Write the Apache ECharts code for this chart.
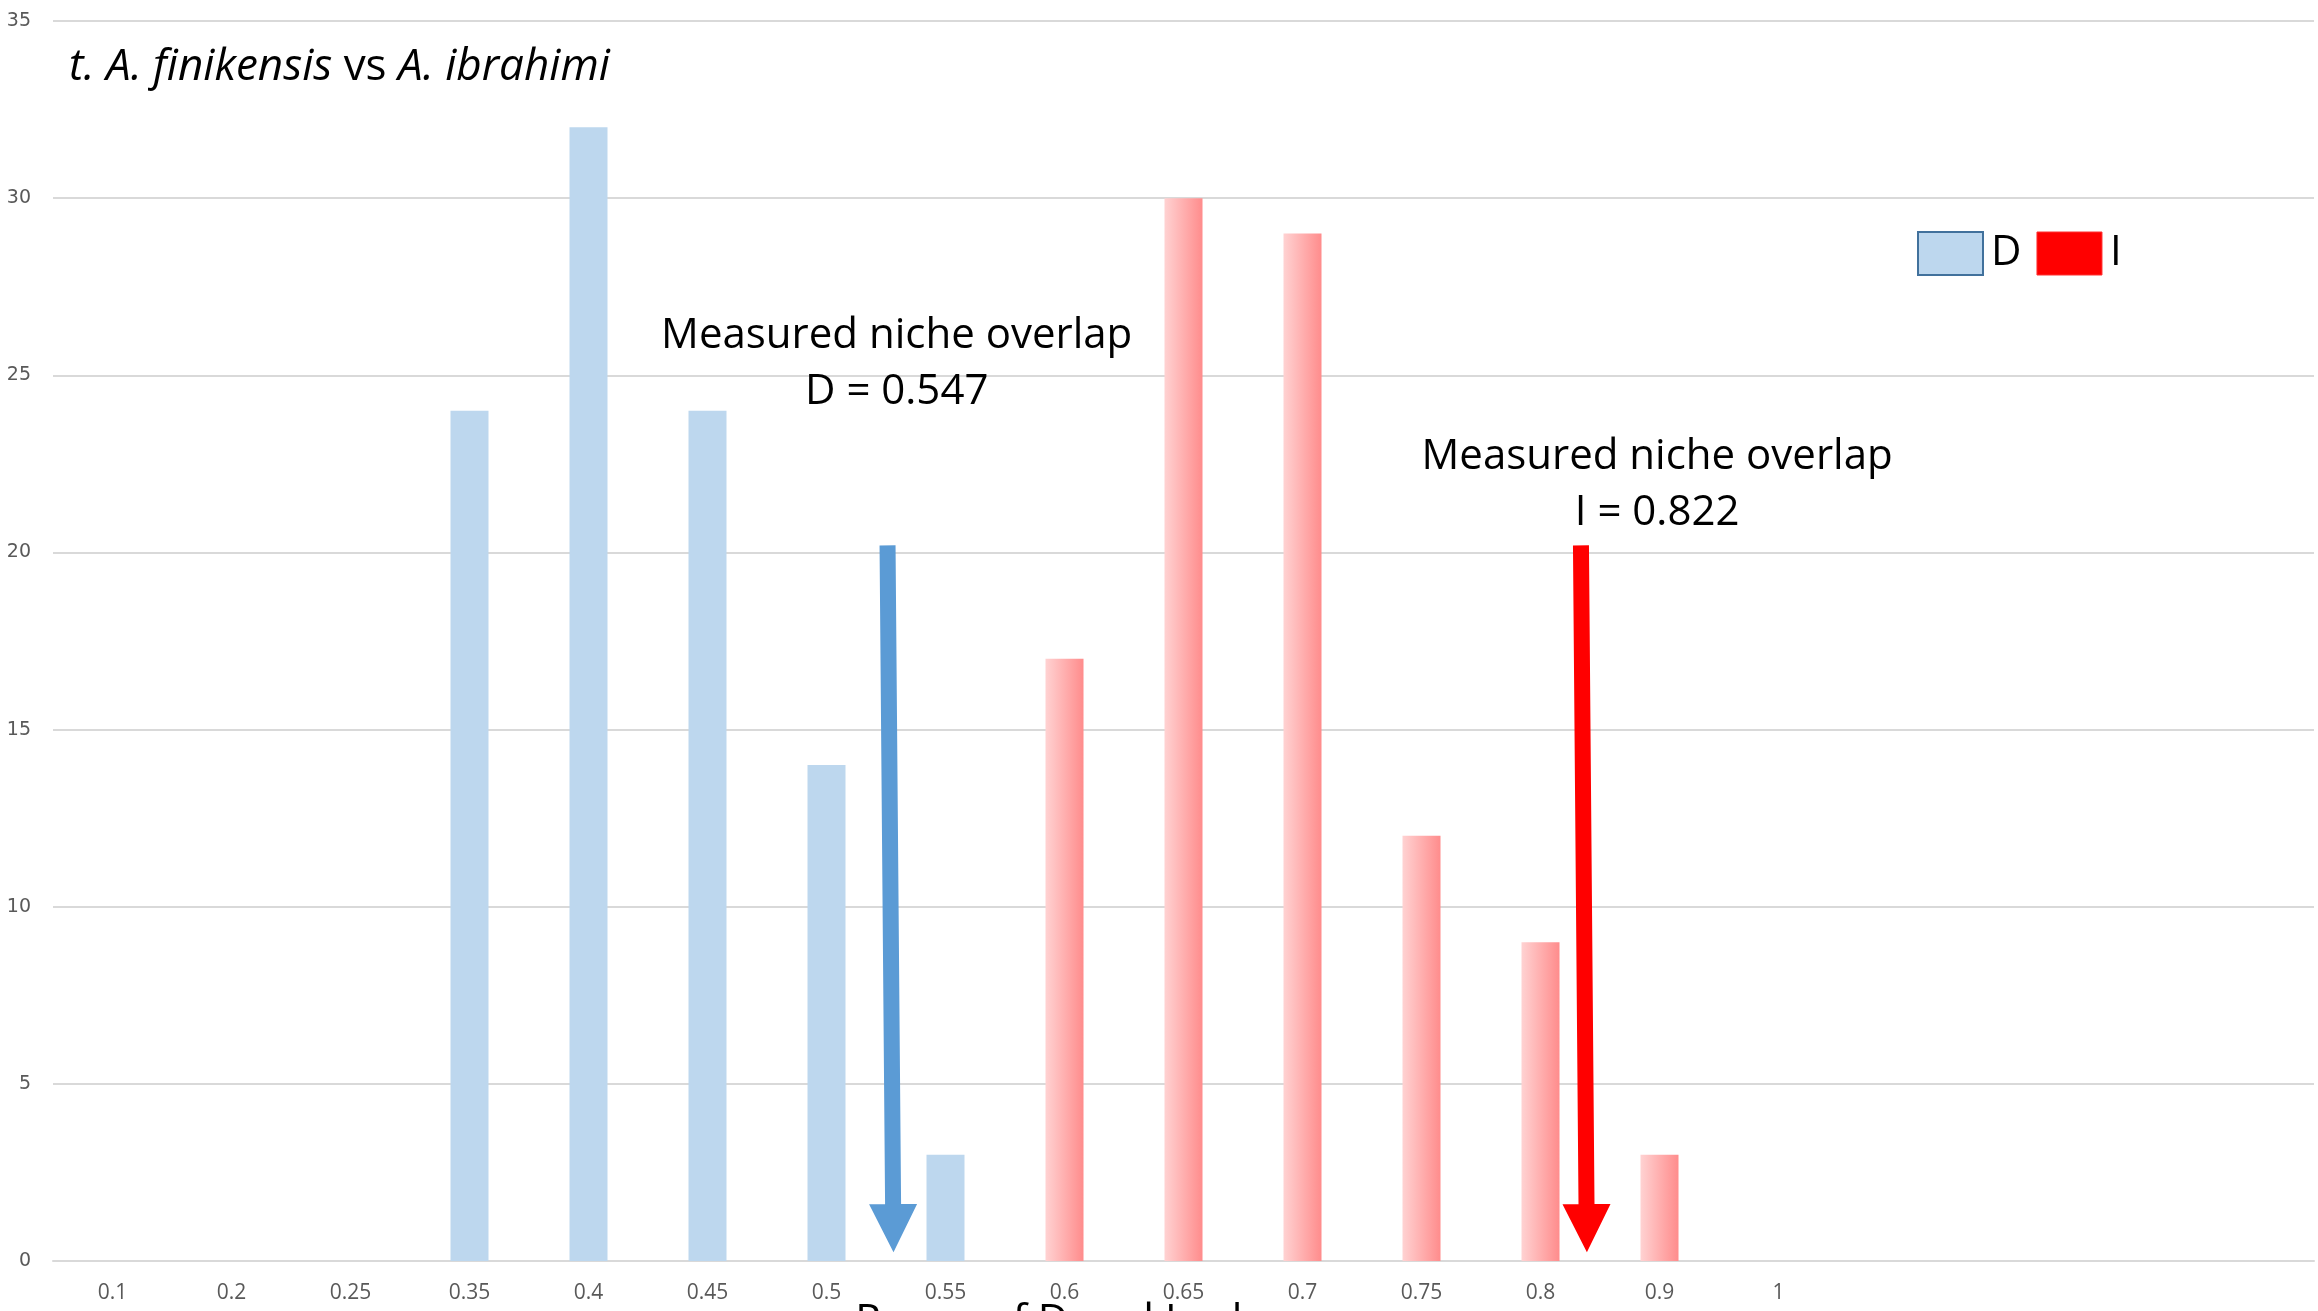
<!DOCTYPE html>
<html><head><meta charset="utf-8">
<script src="https://cdn.jsdelivr.net/npm/echarts@6/dist/echarts.min.js"></script>
<style>html,body{margin:0;padding:0;background:#fff}#c{width:2318px;height:1311px}</style>
</head><body><div id="c"></div>
<script>
// ---- data ----
const categories = ['0.1','0.2','0.25','0.35','0.4','0.45','0.5','0.55','0.6','0.65','0.7','0.75','0.8','0.9','1','','','',''];
const dValues = [null,null,null,24,32,24,14,3,null,null,null,null,null,null,null,null,null,null,null];
const iValues = [null,null,null,null,null,null,null,null,17,30,29,12,9,3,null,null,null,null,null];
const yMin = 0, yMax = 35, yStep = 5;
// arrows: [xStart(index), yStart, xEnd(index), yEnd]
const arrowD = [6.513, 20.2, 6.563, 0.25];
const arrowI = [12.34, 20.2, 12.39, 0.25];
const arrowColors = ['#5B9BD5', '#FF0000'];
// notes: [x(index), yLine1, yLine2]
const notePosD = [6.59, 26.1, 24.52];
const notePosI = [12.98, 22.68, 21.1];
const noteTexts = [['Measured niche overlap', 'D = 0.547'], ['Measured niche overlap', 'I = 0.822']];
const titleText = '{it|t. A. finikensis} vs {it|A. ibrahimi}';
const xName = 'Range of D and I values';

const FONT = '"Open Sans", "Noto Sans", sans-serif';
const chart = echarts.init(document.getElementById('c'), null, {renderer: 'canvas'});

function arrowItem(params, api) {
  const p0 = api.coord([api.value(0), api.value(1)]);
  const p1 = api.coord([api.value(2), api.value(3)]);
  const dx = p1[0] - p0[0], dy = p1[1] - p0[1];
  const len = Math.hypot(dx, dy);
  const ux = dx / len, uy = dy / len, nx = -uy, ny = ux;
  const hw = 8, headW = 24, headL = 48;
  const bx = p1[0] - ux * headL, by = p1[1] - uy * headL;
  const pts = [
    [p0[0] + nx * hw, p0[1] + ny * hw],
    [bx + nx * hw, by + ny * hw],
    [bx + nx * headW, by + ny * headW],
    [p1[0], p1[1]],
    [bx - nx * headW, by - ny * headW],
    [bx - nx * hw, by - ny * hw],
    [p0[0] - nx * hw, p0[1] - ny * hw]
  ];
  return {type: 'polygon', shape: {points: pts}, style: {fill: arrowColors[params.dataIndex]}};
}

function noteItem(params, api) {
  const a = api.coord([api.value(0), api.value(1)]);
  const b = api.coord([api.value(0), api.value(2)]);
  const t = noteTexts[params.dataIndex];
  const st = (txt, p) => ({type: 'text', style: {text: txt, x: p[0], y: p[1], fill: '#000', fontSize: 42, fontFamily: FONT, align: 'center', verticalAlign: 'middle'}});
  return {type: 'group', children: [st(t[0], a), st(t[1], b)]};
}

const option = {
  backgroundColor: '#fff',
  animation: false,
  title: {
    text: titleText, left: 69, top: 39, padding: 0,
    textStyle: {fontSize: 44, fontWeight: 'normal', color: '#000', fontFamily: FONT, lineHeight: 56,
      rich: {it: {fontStyle: 'italic', fontSize: 44, color: '#000', fontFamily: FONT, lineHeight: 56}}}
  },
  legend: {
    left: 1917, top: 231, padding: 0, itemWidth: 65, itemHeight: 43, itemGap: 15, icon: 'rect',
    textStyle: {fontSize: 42, color: '#000', fontFamily: FONT, padding: [0, 0, 0, 3]},
    data: [
      {name: 'D', itemStyle: {color: '#BDD7EE', borderColor: '#41719C', borderWidth: 2}},
      {name: 'I', itemStyle: {color: '#FF0000', borderColor: '#FF3030', borderWidth: 1}}
    ]
  },
  grid: {left: 53, right: 4, top: 21, bottom: 50, outerBoundsMode: 'none', containLabel: false},
  xAxis: [
    {type: 'category', data: categories,
     axisTick: {show: false},
     axisLine: {lineStyle: {color: '#D9D9D9', width: 2}},
     axisLabel: {color: '#595959', fontSize: 21, fontFamily: FONT, margin: 22, interval: 0},
     name: xName, nameLocation: 'middle', nameGap: 40, nameMoveOverlap: false,
     nameTextStyle: {fontSize: 42, color: '#000', fontFamily: FONT, padding: [0, 200, 0, 0]}},
    {type: 'value', min: -0.5, max: categories.length - 0.5, show: false}
  ],
  yAxis: {
    type: 'value', min: yMin, max: yMax, interval: yStep,
    axisLine: {show: false}, axisTick: {show: false},
    axisLabel: {color: '#595959', fontSize: 19, fontFamily: '"DejaVu Sans", sans-serif', margin: 22},
    splitLine: {lineStyle: {color: '#D9D9D9', width: 2}}
  },
  series: [
    {name: 'D', type: 'bar', data: dValues, barWidth: 38, barGap: '-100%', itemStyle: {color: '#BDD7EE'}},
    {name: 'I', type: 'bar', data: iValues, barWidth: 38, barGap: '-100%',
     itemStyle: {color: {type: 'linear', x: 0, y: 0, x2: 1, y2: 0,
       colorStops: [{offset: 0, color: '#FFD2D2'}, {offset: 1, color: '#FF8C8C'}]}}},
    {name: 'arrows', type: 'custom', xAxisIndex: 1, yAxisIndex: 0, silent: true, z: 5,
     encode: {x: [0, 2], y: [1, 3]}, data: [arrowD, arrowI], renderItem: arrowItem},
    {name: 'notes', type: 'custom', xAxisIndex: 1, yAxisIndex: 0, silent: true, z: 6,
     encode: {x: 0, y: [1, 2]}, data: [notePosD, notePosI], renderItem: noteItem}
  ]
};
chart.setOption(option);
</script></body></html>
